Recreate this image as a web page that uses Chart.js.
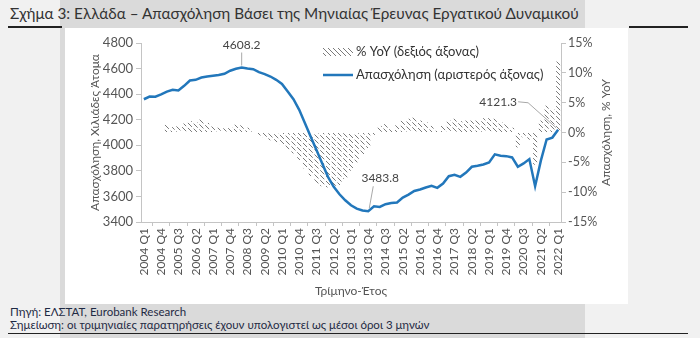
<!DOCTYPE html>
<html lang="el">
<head>
<meta charset="utf-8">
<script src="https://cdn.jsdelivr.net/npm/chart.js@4/dist/chart.umd.min.js"></script>
<style>
  html, body { margin: 0; padding: 0; }
  body { width: 700px; height: 338px; background: #f1f1f1; position: relative; overflow: hidden; font-family: Lato, "Open Sans", sans-serif; }
  .band { position: absolute; left: 60px; top: 0; width: 525px; height: 338px; background: #dadada; }
  .panel { position: absolute; left: 65px; top: 28px; width: 563px; height: 276px; background: #fff; }
  .rule { position: absolute; height: 1.5px; background: #222; }
  .title { position: absolute; left: 10px; top: 4px; font-size: 15.3px; color: #333; white-space: nowrap; }
  .note { position: absolute; left: 10px; font-size: 11.5px; color: #1f2a44; white-space: nowrap; }
  canvas { position: absolute; left: 0; top: 0; }
</style>
</head>
<body>
<div class="band"></div>
<div class="panel"></div>
<div class="rule" style="left:8px; top:26px; width:54px;"></div>
<div class="rule" style="left:629px; top:26px; width:59px;"></div>
<div class="title">Σχήμα 3: Ελλάδα – Απασχόληση Βάσει της Μηνιαίας Έρευνας Εργατικού Δυναμικού</div>
<div class="note" style="top:305px;">Πηγή: ΕΛΣΤΑΤ, Eurobank Research</div>
<div class="note" style="top:318px;">Σημείωση: οι τριμηνιαίες παρατηρήσεις έχουν υπολογιστεί ως μέσοι όροι 3 μηνών</div>
<div class="rule" style="left:8px; top:333px; width:680px; height:1px;"></div>
<canvas id="chart" width="700" height="338"></canvas>
<script>
// quarters 2004 Q1 .. 2022 Q1
const years = [2004, 2005, 2006, 2007, 2008, 2009, 2010, 2011, 2012, 2013, 2014, 2015, 2016, 2017, 2018, 2019, 2020, 2021, 2022];
const quarters = [];
years.forEach((y) => ["Q1", "Q2", "Q3", "Q4"].forEach((q) => { if (y < 2022 || q === "Q1") quarters.push(y + " " + q); }));

// employment, thousands of persons (left axis)
const employment = [
  4360, 4381, 4380, 4398, 4420, 4434, 4428, 4465, 4507, 4512,
  4530, 4538, 4543, 4549, 4559, 4583, 4598, 4608.2, 4600, 4595,
  4572, 4557, 4538, 4512, 4480, 4420, 4360, 4277, 4172, 4067,
  3963, 3858, 3753, 3675, 3617, 3570, 3531, 3505, 3490, 3483.8,
  3523, 3518, 3539, 3549, 3552, 3591, 3614, 3643, 3654, 3670,
  3683, 3667, 3701, 3758, 3769, 3753, 3787, 3832, 3840, 3850,
  3866, 3929, 3918, 3915, 3905, 3832, 3858, 3892, 3680, 3880,
  4045, 4060, 4121.3
];

// year-on-year change, % (right axis)
const yoy = [
  null, null, null, null, 1.3, 0.9, 1.1, 1.5, 1.9, 1.7,
  2.2, 1.6, 1.0, 0.8, 0.7, 0.9, 1.3, 1.2, 0.8, 0.2,
  -0.5, -0.8, -1.3, -1.6, -2.1, -2.8, -3.5, -4.6, -6.0, -7.3,
  -8.6, -9.0, -9.2, -9.0, -8.8, -7.8, -6.4, -5.0, -3.6, -2.6,
  -0.4, 1.1, 1.4, 0.6, 1.2, 2.0, 2.3, 2.5, 2.0, 1.7,
  1.1, 0.3, 1.2, 2.0, 2.3, 1.9, 2.0, 2.0, 2.1, 2.4,
  2.4, 2.3, 1.7, 1.4, 0.8, -2.5, -0.8, -1.2, -5.4, 2.0,
  4.5, 3.9, 11.9
];

// labelled points: index, label offset, leader line
const callouts = [
  { i: 17, dx: 0, dy: -22, lead: [[0, -15], [0, -2]] },
  { i: 39, dx: 12, dy: -33, lead: [[5, -25], [1, -3]] },
  { i: 72, dx: -60, dy: -28, lead: [[-40, -28], [-30, -27], [-2, -2]] }
];

const lineColor = "#2277bb";
const textColor = "#555";
const axisColor = "#c4c4c4";

function hatch() {
  const c = document.createElement("canvas");
  c.width = 5; c.height = 5;
  const x = c.getContext("2d");
  x.strokeStyle = "#7a7a7a";
  x.lineWidth = 1;
  x.beginPath();
  x.moveTo(0, 0); x.lineTo(5, 5);
  x.moveTo(-1, 4); x.lineTo(1, 6);
  x.moveTo(4, -1); x.lineTo(6, 1);
  x.stroke();
  return x.createPattern(c, "repeat");
}

const overlay = {
  id: "overlay",
  afterDraw(chart) {
    const ctx = chart.ctx;
    const xs = chart.scales.x, ys = chart.scales.y;
    const area = chart.chartArea;
    ctx.save();
    ctx.fillStyle = textColor;
    ctx.font = "12px Lato";

    // axis titles
    ctx.textAlign = "center";
    ctx.textBaseline = "middle";
    [[95, "Απασχόληση, Χιλιάδες Άτομα"], [606, "Απασχόληση, % YoY"]].forEach(([x, t]) => {
      ctx.save();
      ctx.translate(x, (area.top + area.bottom) / 2);
      ctx.rotate(-Math.PI / 2);
      ctx.fillText(t, 0, 0);
      ctx.restore();
    });
    ctx.fillText("Τρίμηνο-Έτος", (area.left + area.right) / 2, 291);

    // legend
    ctx.font = "13px Lato";
    ctx.textAlign = "left";
    ctx.fillStyle = chart.data.datasets[1].backgroundColor;
    ctx.fillRect(323, 48, 30, 8);
    ctx.fillStyle = "#333";
    ctx.fillText("% YoY (δεξιός άξονας)", 356, 52);
    ctx.strokeStyle = lineColor;
    ctx.lineWidth = 2.5;
    ctx.beginPath();
    ctx.moveTo(323, 75); ctx.lineTo(353, 75);
    ctx.stroke();
    ctx.fillText("Απασχόληση (αριστερός άξονας)", 356, 75);

    // value callouts
    ctx.font = "12px Lato";
    ctx.textAlign = "center";
    callouts.forEach((c) => {
      const v = employment[c.i];
      const px = xs.getPixelForValue(c.i);
      const py = ys.getPixelForValue(v);
      ctx.strokeStyle = "#a8a8a8";
      ctx.lineWidth = 1;
      ctx.beginPath();
      c.lead.forEach(([lx, ly], k) => {
        if (k === 0) ctx.moveTo(px + lx, py + ly); else ctx.lineTo(px + lx, py + ly);
      });
      ctx.stroke();
      ctx.fillStyle = "#444";
      ctx.fillText(v.toFixed(1), px + c.dx, py + c.dy);
    });
    ctx.restore();
  }
};

Chart.defaults.font.family = "Lato";
Chart.defaults.color = textColor;

new Chart(document.getElementById("chart"), {
  data: {
    labels: quarters,
    datasets: [
      {
        type: "line",
        label: "Απασχόληση (αριστερός άξονας)",
        data: employment,
        yAxisID: "y",
        borderColor: lineColor,
        borderWidth: 2.5,
        pointRadius: 0,
        tension: 0,
        order: 0
      },
      {
        type: "bar",
        label: "% YoY (δεξιός άξονας)",
        data: yoy,
        yAxisID: "y1",
        backgroundColor: hatch(),
        borderWidth: 0,
        categoryPercentage: 1,
        barPercentage: 0.7,
        order: 1
      }
    ]
  },
  options: {
    responsive: false,
    animation: false,
    devicePixelRatio: 1,
    layout: { padding: { top: 43, left: 0, right: 0, bottom: 0 } },
    plugins: { legend: { display: false }, tooltip: { enabled: false } },
    scales: {
      x: {
        offset: true,
        grid: { drawOnChartArea: false, drawTicks: true, tickLength: 4, color: axisColor },
        border: { color: axisColor },
        ticks: {
          autoSkip: false,
          maxRotation: 90,
          minRotation: 90,
          padding: 2,
          font: { size: 12 },
          callback: (v, i) => (i % 3 === 0 ? quarters[i] : null)
        },
        afterFit: (s) => { s.height = 116; }
      },
      y: {
        position: "left",
        min: 3400,
        max: 4800,
        grid: { drawOnChartArea: false, drawTicks: true, tickLength: 5, color: axisColor },
        border: { color: axisColor },
        ticks: { stepSize: 200, padding: 3, font: { size: 13 }, callback: (v) => String(v) },
        afterFit: (s) => { s.width = 141; }
      },
      y1: {
        position: "right",
        min: -15,
        max: 15,
        grid: { drawOnChartArea: false, drawTicks: true, tickLength: 5, color: axisColor },
        border: { color: axisColor },
        ticks: { stepSize: 5, padding: 2, font: { size: 12.5 }, callback: (v) => v + "%" },
        afterFit: (s) => { s.width = 139; }
      }
    }
  },
  plugins: [overlay]
});
</script>
</body>
</html>
